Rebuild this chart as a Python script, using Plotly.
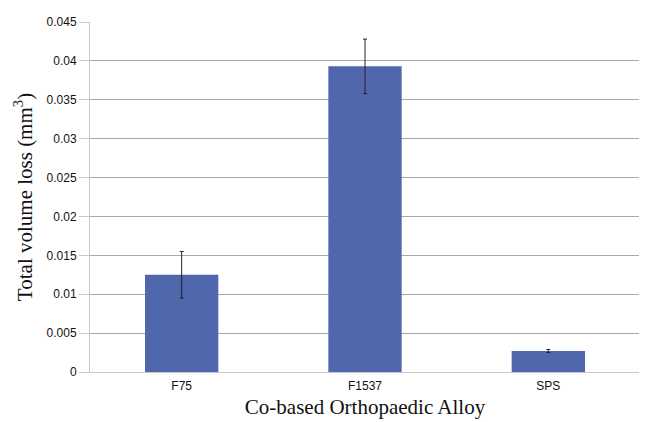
import plotly.graph_objects as go

categories = ["F75", "F1537", "SPS"]
values = [0.0125, 0.0393, 0.0027]
errors = [0.003, 0.0035, 0.0002]
y_ticks = [0, 0.005, 0.01, 0.015, 0.02, 0.025, 0.03, 0.035, 0.04, 0.045]
y_tick_labels = ["0", "0.005", "0.01", "0.015", "0.02", "0.025", "0.03", "0.035", "0.04", "0.045"]

# page body has an 8px margin, so the figure is sized/offset accordingly
fig = go.Figure()
fig.add_trace(go.Bar(
    x=categories, y=values,
    marker=dict(color="#5167ad", line=dict(width=0)),
    width=0.4,
    error_y=dict(type="data", array=errors, visible=True, color="#222222", thickness=1, width=2),
))

fig.update_layout(
    width=639, height=414,
    margin=dict(l=82, r=7, t=8, b=50),
    paper_bgcolor="white", plot_bgcolor="white",
    showlegend=False,
    font=dict(family="Liberation Sans, Arial, sans-serif", color="#222222"),
    xaxis=dict(
        title=dict(text="Co-based Orthopaedic Alloy", font=dict(family="Liberation Serif, Times New Roman, serif", size=21, color="#111111"), standoff=6),
        tickfont=dict(size=12, color="#111111"),
        showline=True, linecolor="#c8c8c8", linewidth=1,
        ticks="outside", ticklen=3, tickcolor="rgba(0,0,0,0)", showgrid=False,
    ),
    yaxis=dict(
        title=dict(text="Total volume loss (mm<sup>3</sup>)", font=dict(family="Liberation Serif, Times New Roman, serif", size=21, color="#111111"), standoff=8),
        range=[0, 0.045],
        tickvals=y_ticks, ticktext=y_tick_labels,
        tickfont=dict(size=12, color="#111111"),
        showgrid=True, gridcolor="#a8a8a8", gridwidth=1,
        showline=True, linecolor="#c8c8c8", linewidth=1,
        ticks="outside", ticklen=10, tickcolor="#c8c8c8",
        zeroline=False,
    ),
)

fig.write_html("out.html")
